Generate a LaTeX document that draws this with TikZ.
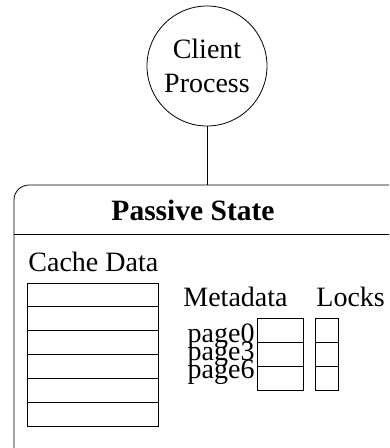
\documentclass[tikz,border=0pt]{standalone}
\usepackage{fontspec}
\setmainfont{Liberation Serif}
\begin{document}
\begin{tikzpicture}[x=1pt,y=-1pt,
  line width=0.8pt,
  lbl/.style={inner sep=0pt,anchor=base west,font=\fontsize{28}{30}\selectfont},
  hdr/.style={inner sep=0pt,anchor=base,font=\fontsize{29.5}{31}\selectfont\bfseries},
  cell/.style={draw,line width=0.8pt}]
\useasboundingbox (0,0) rectangle (389,448);
% client process
\node[draw,circle,minimum size=120pt,inner sep=0pt,align=center,
      font=\fontsize{28}{34}\selectfont] (client) at (207,66) {Client\\Process};
% passive state container (runs past the page edge)
\begin{scope}
\clip (0,0) rectangle (389,448);
\draw[rounded corners=15pt] (14,460) -- (14,185) -- (405,185) -- (405,460);
\coordinate (boxtop) at (207,185);
\draw (14,234) -- (405,234);
\end{scope}
\draw (client.south) -- (boxtop);
\node[hdr] (title) at (193,220) {Passive State};
% cache data
\node[lbl] (cachelbl) at (28,271) {Cache Data};
\foreach \i in {0,...,5}{
  \draw[cell] (27,{283+23.83*\i}) rectangle (158,{283+23.83*(\i+1)});
}
% metadata and locks
\node[lbl] (metalbl) at (183,306) {Metadata};
\node[lbl] (lockslbl) at (316,306) {Locks};
\foreach \i/\p in {0/0,1/3,2/6}{
  \draw[cell] (257,{318+24*\i}) rectangle (303,{318+24*(\i+1)});
  \draw[cell] (315,{318+24*\i}) rectangle (338,{318+24*(\i+1)});
  \node[lbl,anchor=base east] (pg\p) at (255,{342+18*\i}) {page\p};
}
\end{tikzpicture}
\end{document}
